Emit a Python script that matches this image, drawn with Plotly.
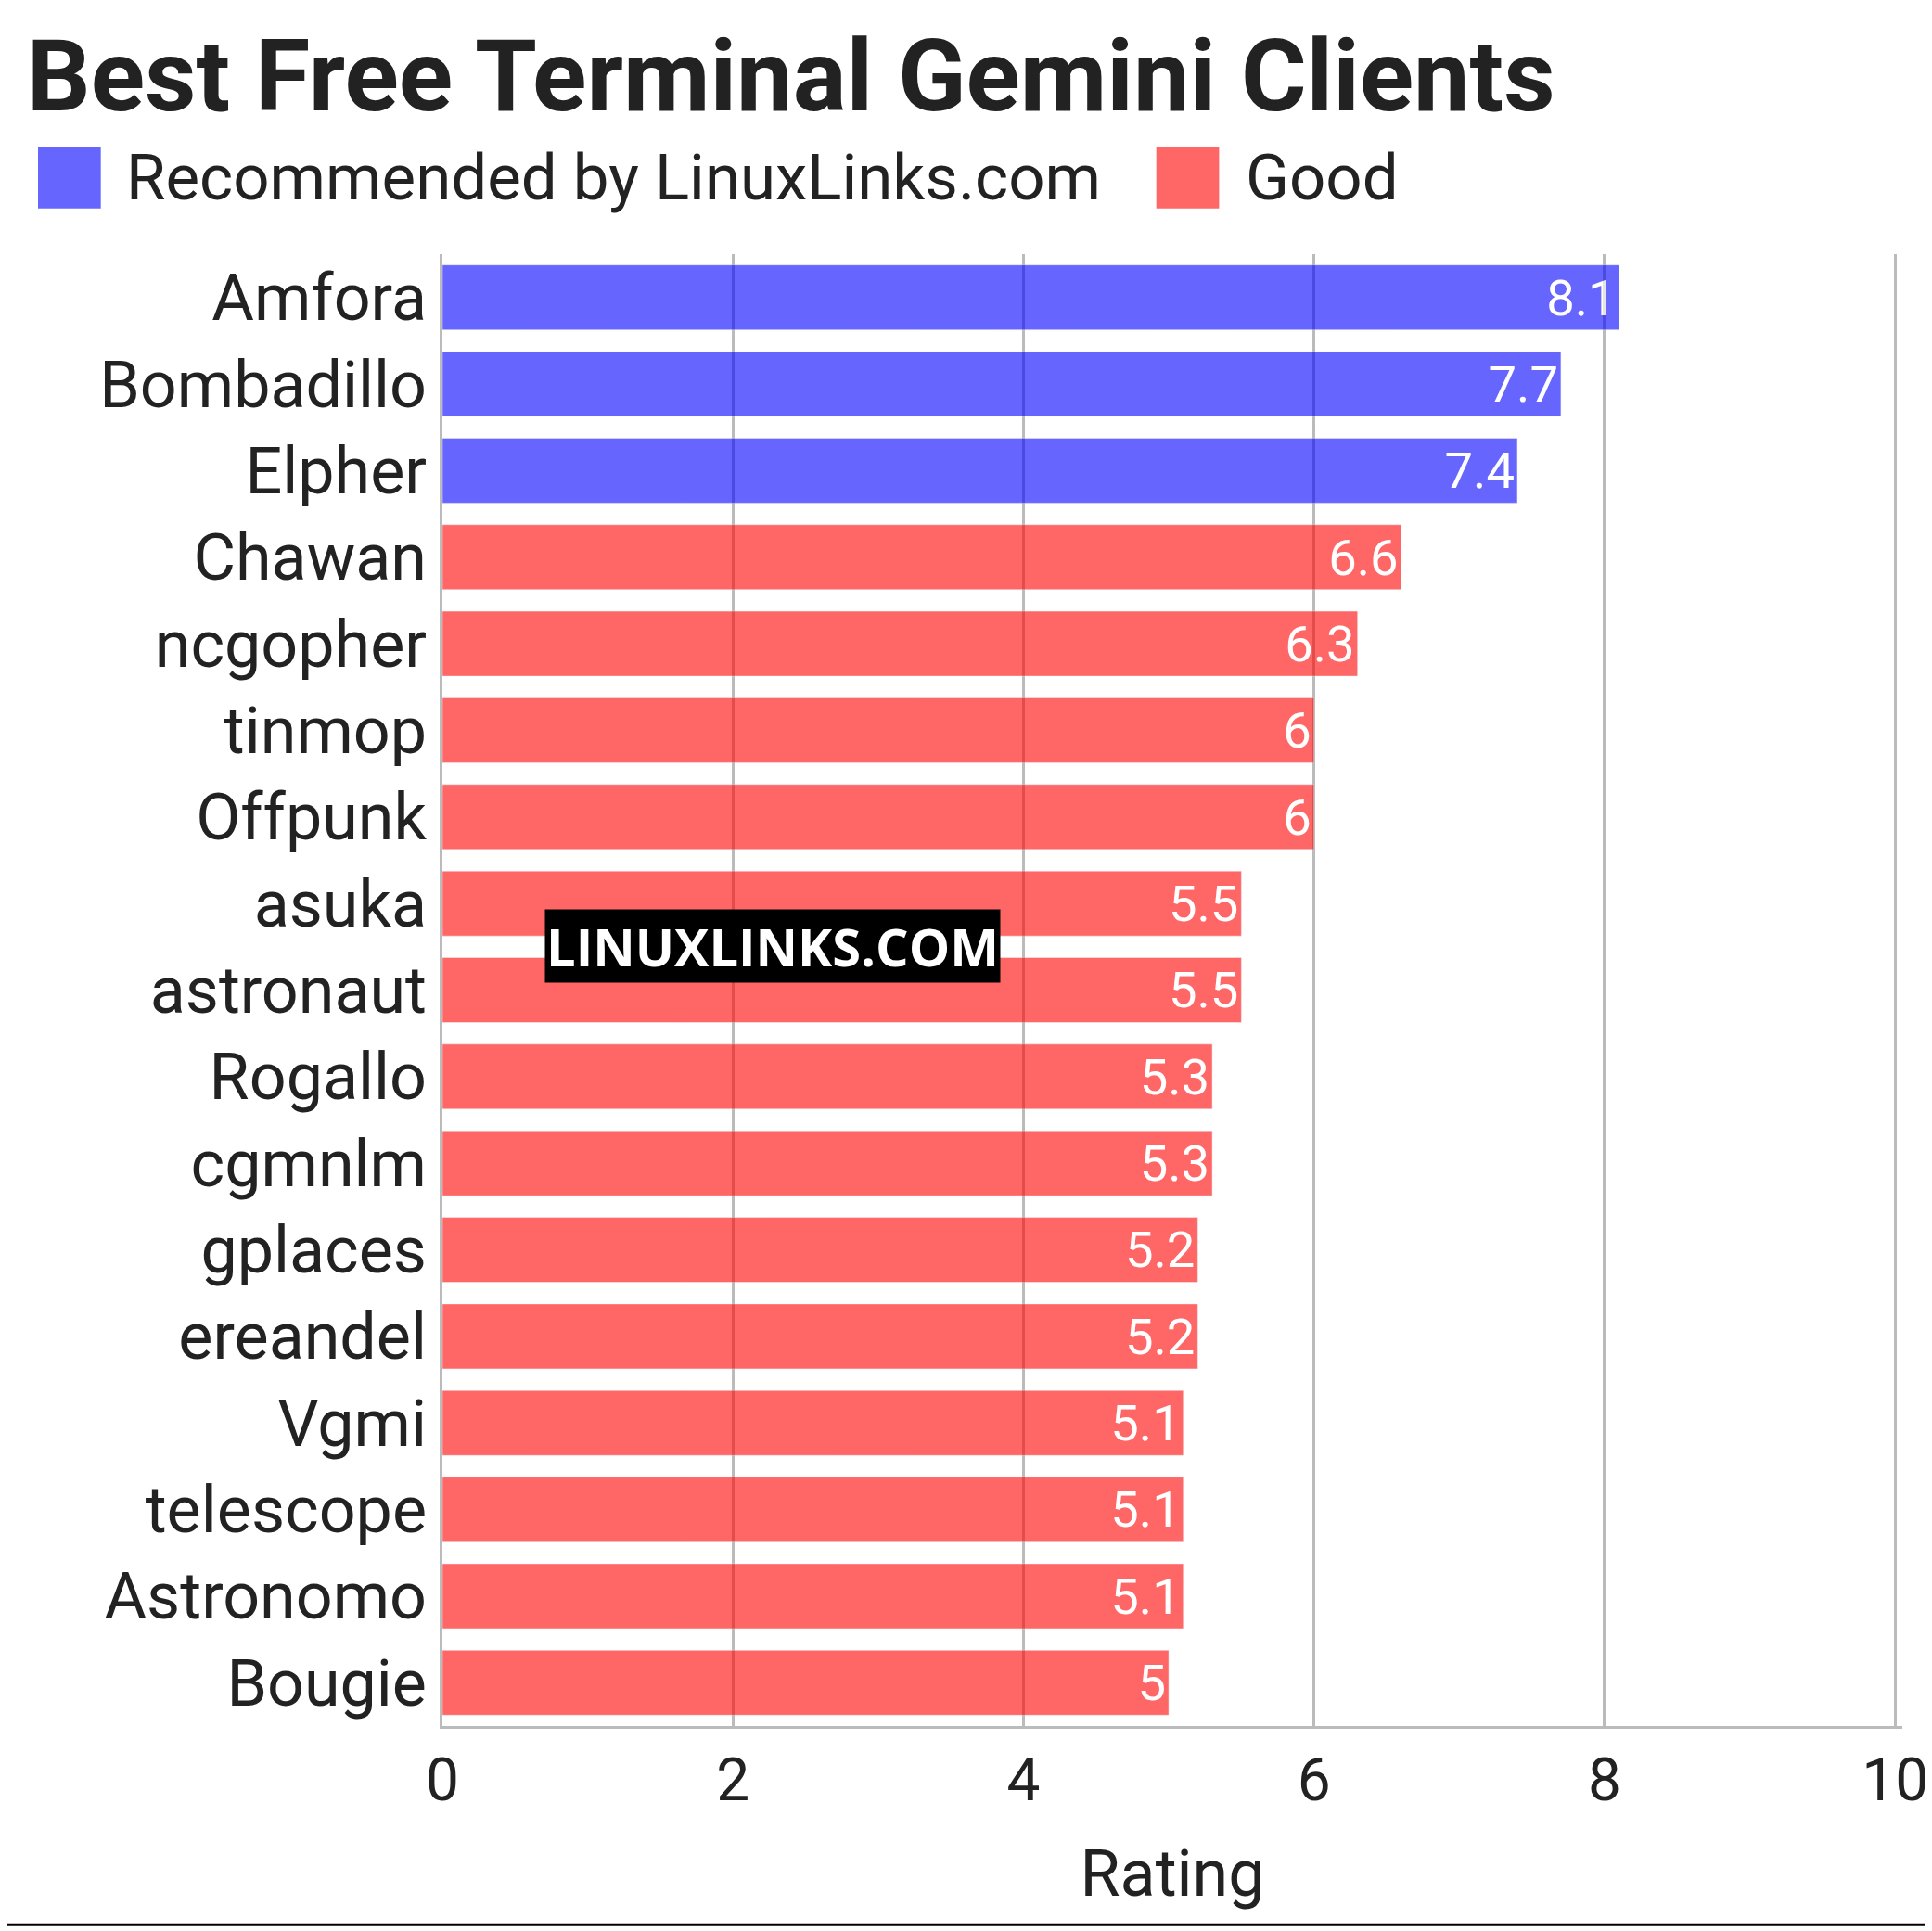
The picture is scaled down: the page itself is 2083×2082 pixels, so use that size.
import plotly.graph_objects as go

rec_names = ["Amfora", "Bombadillo", "Elpher"]
rec_vals = [8.1, 7.7, 7.4]
good_names = ["Chawan", "ncgopher", "tinmop", "Offpunk", "asuka", "astronaut", "Rogallo",
              "cgmnlm", "gplaces", "ereandel", "Vgmi", "telescope", "Astronomo", "Bougie"]
good_vals = [6.6, 6.3, 6, 6, 5.5, 5.5, 5.3, 5.3, 5.2, 5.2, 5.1, 5.1, 5.1, 5]
order = rec_names + good_names
legend_names = ["Recommended by LinuxLinks.com", "Good"]

fig = go.Figure()
fig.add_bar(y=rec_names, x=rec_vals, orientation="h", showlegend=False,
            marker_color="blue", opacity=0.6, text=rec_vals, textposition="inside", textangle=0,
            insidetextanchor="end", textfont=dict(color="white", size=62))
fig.add_bar(y=good_names, x=good_vals, orientation="h", showlegend=False,
            marker_color="red", opacity=0.6, text=good_vals, textposition="inside", textangle=0,
            insidetextanchor="end", textfont=dict(color="white", size=62))

fig.update_layout(
    width=2083, height=2082, plot_bgcolor="white", paper_bgcolor="white",
    font=dict(family="Roboto", color="#222"),
    margin=dict(l=469, r=40, t=266, b=229),
    bargap=0.25,
    title=dict(text="<b>Best Free Terminal Gemini Clients</b>", x=0.01, xanchor="left",
               y=0.983, yanchor="top", font=dict(size=108, color="#222")),
    xaxis=dict(range=[0, 10.05], dtick=2, showgrid=True, gridcolor="#bbb", gridwidth=3,
               tickfont=dict(size=64), title=dict(text="Rating", font=dict(size=70), standoff=40),
               showline=True, linecolor="#bbb", linewidth=3, zeroline=False, ticks=""),
    yaxis=dict(categoryorder="array", categoryarray=order[::-1], tickfont=dict(size=70),
               showline=True, linecolor="#bbb", linewidth=3, ticks="", automargin=False),
    uniformtext=dict(minsize=50),
)
for nm, col, x0, tx in zip(legend_names, ["#6666ff", "#ff6666"], [-0.277, 0.489], [-0.218, 0.549]):
    fig.add_shape(type="rect", xref="paper", yref="paper", x0=x0, x1=x0 + 0.043,
                  y0=1.031, y1=1.073, fillcolor=col, line_width=0)
    fig.add_annotation(text=nm, xref="paper", yref="paper", x=tx, y=1.052, xanchor="left",
                       yanchor="middle", showarrow=False, font=dict(size=69, color="#222"))
fig.add_annotation(text="<b>LINUXLINKS.COM</b>", xref="paper", yref="paper", x=0.07, y=0.53,
                   xanchor="left", showarrow=False, bgcolor="black",
                   font=dict(color="white", size=56, family="Open Sans"))
fig.add_shape(type="line", xref="paper", yref="paper", x0=-0.3, x1=1.03, y0=-0.135, y1=-0.135,
              line=dict(color="black", width=3))
fig.write_html("out.html")
